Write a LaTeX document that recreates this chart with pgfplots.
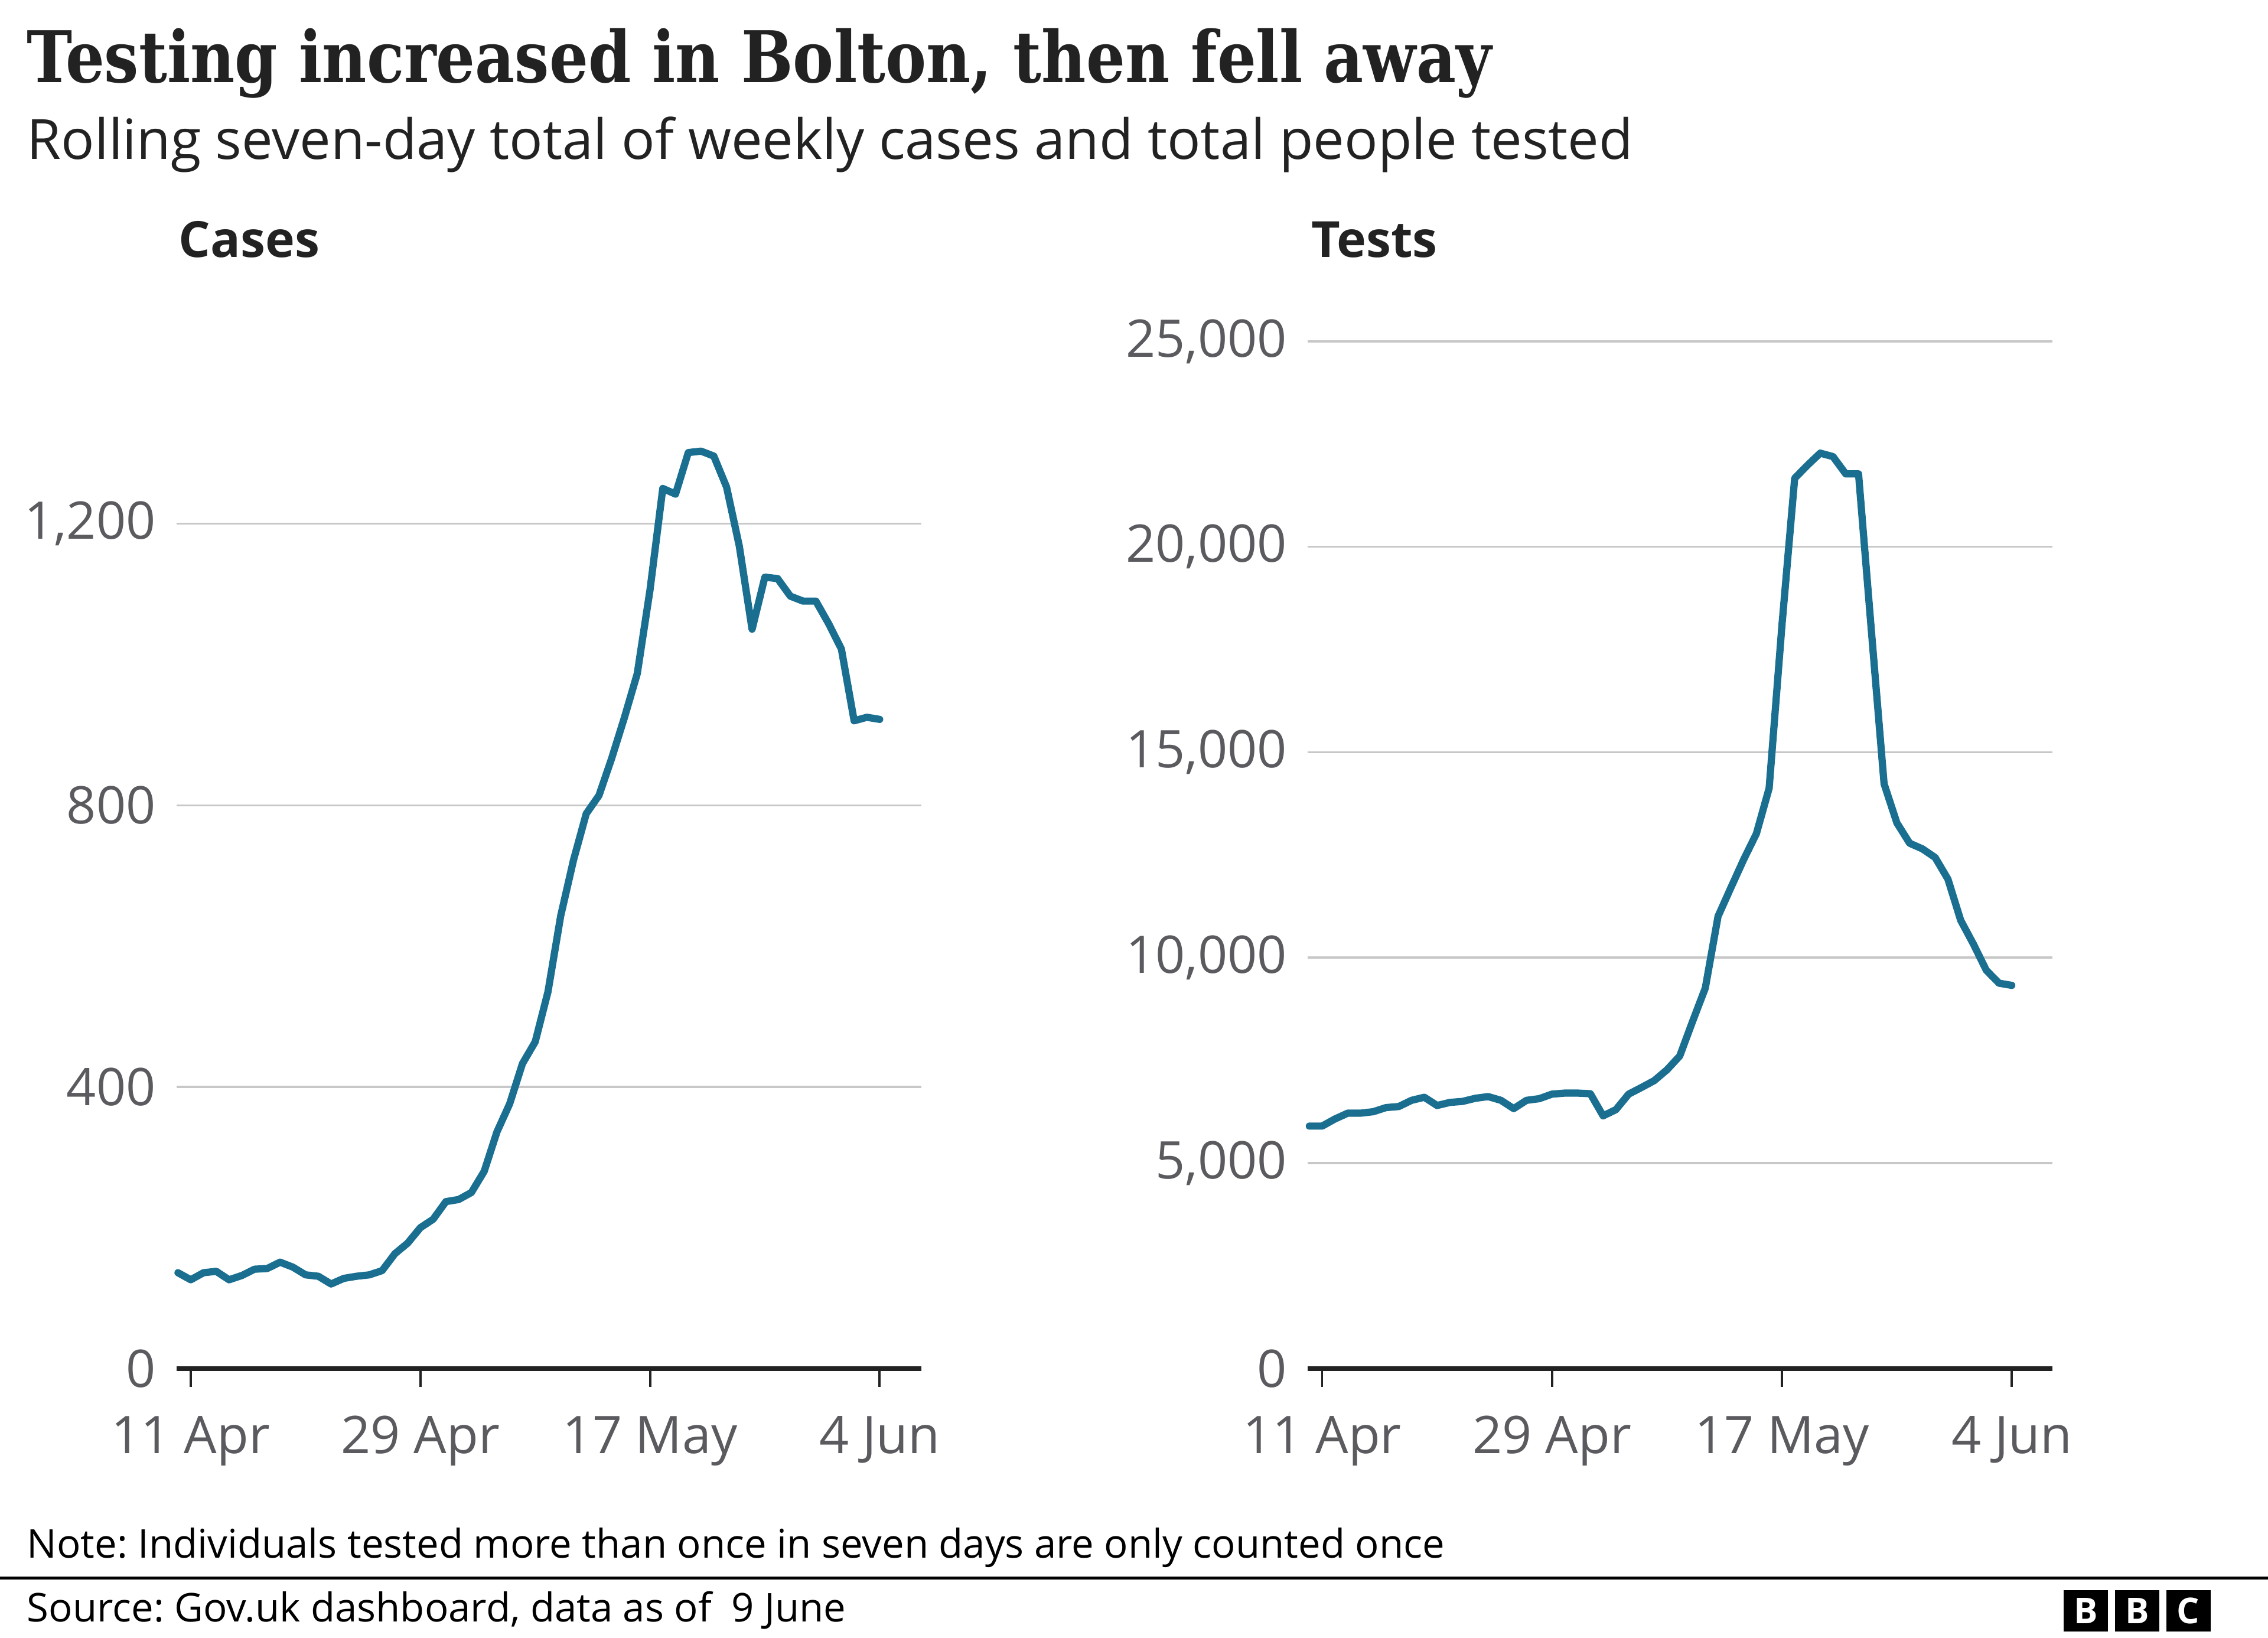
\documentclass[border=0pt]{standalone}
\usepackage{fontspec}
\setmainfont{Open Sans}
\newfontfamily\titlefont[FakeStretch=0.86]{DejaVu Serif}
\usepackage{pgfplots}
\pgfplotsset{compat=1.18}
\definecolor{linecol}{HTML}{1A6F91}
\definecolor{gridcol}{HTML}{C8C8C8}
\definecolor{tickcol}{HTML}{5A5A5F}
\definecolor{dark}{HTML}{222222}

\pgfplotsset{bbc/.style={
  scale only axis, clip=false,
  axis x line=bottom, axis y line=left,
  x axis line style={line width=0.95pt, draw=dark, -},
  y axis line style={draw=none},
  ymajorgrids, grid style={gridcol, line width=0.4pt},
  tick align=outside,
  major tick length=0.127cm,
  xtick style={draw=dark, line width=0.45pt},
  ytick style={draw=none},
  xtick={0,18,36,54},
  xticklabels={11 Apr, 29 Apr, 17 May, 4 Jun},
  tick label style={font=\fontsize{10.2}{11}\selectfont, text=tickcol},
  scaled y ticks=false,
  /pgf/number format/assume math mode=true,
  /pgf/number format/1000 sep={,},
  yticklabel style={anchor=east, inner sep=0pt, xshift=-0.01cm},
  xticklabel style={anchor=base, inner sep=0pt, yshift=-0.46cm},
  ymin=0,
}}

\pgfplotstableread{
d v
-1 136
0 126
1 136
2 138
3 126
4 132
5 141
6 142
7 151
8 144
9 133
10 131
11 120
12 128
13 131
14 133
15 139
16 163
17 178
18 200
19 212
20 237
21 240
22 250
23 280
24 336
25 376
26 433
27 464
28 535
29 643
30 722
31 788
32 814
33 867
34 925
35 987
36 1106
37 1250
38 1242
39 1301
40 1303
41 1296
42 1252
43 1168
44 1050
45 1124
46 1122
47 1097
48 1090
49 1090
50 1058
51 1022
52 920
53 925
54 922
}\cases

\pgfplotstableread{
d v
-1 5900
0 5900
1 6073
2 6214
3 6214
4 6250
5 6350
6 6376
7 6527
8 6602
9 6401
10 6476
11 6501
12 6577
13 6618
14 6527
15 6325
16 6527
17 6567
18 6678
19 6703
20 6703
21 6688
22 6149
23 6300
24 6678
25 6839
26 7006
27 7270
28 7606
29 8444
30 9258
31 11006
32 11700
33 12384
34 13017
35 14125
36 18081
37 21668
38 21985
39 22280
40 22196
41 21774
42 21774
43 17976
44 14231
45 13281
46 12785
47 12648
48 12437
49 11910
50 10907
51 10327
52 9694
53 9378
54 9325
}\tests

\begin{document}
\frenchspacing
\begin{tikzpicture}
\path[use as bounding box, fill=white] (0,0) rectangle (15.68,11.32);

\node[anchor=base west, inner sep=0pt, text=dark, font=\titlefont\bfseries\fontsize{14}{16}\selectfont] at (0.18,10.75) {Testing increased in Bolton, then fell away};
\node[anchor=base west, inner sep=0pt, text=dark, font=\fontsize{10.9}{12}\selectfont] at (0.18,10.22) {Rolling seven-day total of weekly cases and total people tested};
\node[anchor=base west, inner sep=0pt, text=dark, font=\bfseries\fontsize{9.8}{11}\selectfont] at (1.23,9.54) {Cases};
\node[anchor=base west, inner sep=0pt, text=dark, font=\bfseries\fontsize{9.8}{11}\selectfont] at (9.06,9.54) {Tests};

\begin{axis}[bbc, at={(1.22cm,1.86cm)}, anchor=south west,
  xmin=-1.12, xmax=57.26, width=5.149cm,
  ymax=1320, height=6.424cm,
  ytick={0,400,800,1200}]
\addplot[linecol, line width=1.42pt, line join=round, line cap=round] table[x=d, y=v] {\cases};
\end{axis}

\begin{axis}[bbc, at={(9.04cm,1.86cm)}, anchor=south west,
  xmin=-1.14, xmax=57.2, width=5.151cm,
  ymax=25000, height=7.10cm,
  ytick={0,5000,10000,15000,20000,25000}]
\addplot[linecol, line width=1.42pt, line join=round, line cap=round] table[x=d, y=v] {\tests};
\end{axis}

\node[anchor=base west, inner sep=0pt, text=black, font=\fontsize{7.8}{9}\selectfont] at (0.18,0.55) {Note: Individuals tested more than once in seven days are only counted once};
\draw[black, line width=0.6pt] (0,0.41) -- (15.68,0.41);
\node[anchor=base west, inner sep=0pt, text=black, font=\fontsize{7.8}{9}\selectfont] at (0.18,0.11) {Source: Gov.uk dashboard, data as of\enspace 9 June};

\foreach \cx/\lt in {14.42/B, 14.775/B, 15.129/C}
  \node[fill=black, minimum width=0.306cm, minimum height=0.286cm, inner sep=0pt, text=white, font=\bfseries\fontsize{7}{7}\selectfont] at (\cx,0.185) {\lt};
\end{tikzpicture}
\end{document}
